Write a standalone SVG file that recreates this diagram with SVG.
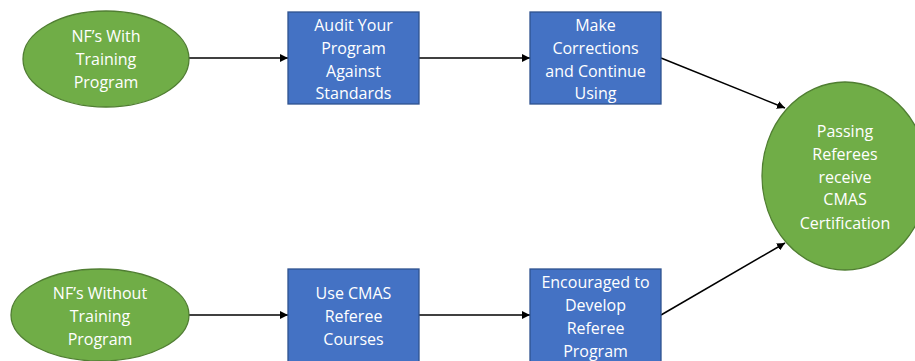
<svg xmlns="http://www.w3.org/2000/svg" width="915" height="361" viewBox="0 0 915 361">
<style>
.g{fill:#70AD47;stroke:#507E32;stroke-width:1.3}
.b{fill:#4472C4;stroke:#2F528F;stroke-width:1.3}
text{font-family:"Open Sans","Liberation Sans",sans-serif;font-size:16px;fill:#fff;text-anchor:middle}
.c{stroke:#000;stroke-width:1.5;fill:none;marker-end:url(#ah)}
</style>
<defs>
<marker id="ah" viewBox="0 0 10 10" refX="10" refY="5" markerWidth="8" markerHeight="8" markerUnits="userSpaceOnUse" orient="auto">
<path d="M0,0L10,5L0,10z" fill="#000"/>
</marker>
</defs>
<rect width="915" height="361" fill="#fff"/>
<g id="connectors">
<line class="c" x1="189" y1="58" x2="288" y2="58"/>
<line class="c" x1="419" y1="58" x2="530" y2="58"/>
<line class="c" x1="661" y1="58" x2="785" y2="108"/>
<line class="c" x1="189" y1="315" x2="288" y2="315"/>
<line class="c" x1="419" y1="315" x2="530" y2="315"/>
<line class="c" x1="661" y1="315" x2="785" y2="243"/>
</g>
<g id="n1"><ellipse class="g" cx="106" cy="59" rx="83" ry="48"/>
<text x="106" y="42">NF’s With</text><text x="106" y="65">Training</text><text x="106" y="88">Program</text></g>
<g id="n2"><rect class="b" x="288" y="12" width="131" height="92"/>
<text x="353.5" y="31">Audit Your</text><text x="353.5" y="54">Program</text><text x="353.5" y="77">Against</text><text x="353.5" y="99">Standards</text></g>
<g id="n3"><rect class="b" x="530" y="12" width="131" height="92"/>
<text x="595.5" y="31">Make</text><text x="595.5" y="54">Corrections</text><text x="595.5" y="77">and Continue</text><text x="595.5" y="99">Using</text></g>
<g id="n4"><ellipse class="g" cx="845" cy="176" rx="83" ry="94"/>
<text x="845" y="137">Passing</text><text x="845" y="160">Referees</text><text x="845" y="183">receive</text><text x="845" y="205">CMAS</text><text x="845" y="229">Certification</text></g>
<g id="n5"><ellipse class="g" cx="100" cy="315" rx="89" ry="46"/>
<text x="100" y="299">NF’s Without</text><text x="100" y="322">Training</text><text x="100" y="345">Program</text></g>
<g id="n6"><rect class="b" x="288" y="269" width="131" height="100"/>
<text x="353.5" y="299">Use CMAS</text><text x="353.5" y="322">Referee</text><text x="353.5" y="345">Courses</text></g>
<g id="n7"><rect class="b" x="530" y="269" width="131" height="100"/>
<text x="595.5" y="288">Encouraged to</text><text x="595.5" y="311">Develop</text><text x="595.5" y="334">Referee</text><text x="595.5" y="357">Program</text></g>
</svg>
